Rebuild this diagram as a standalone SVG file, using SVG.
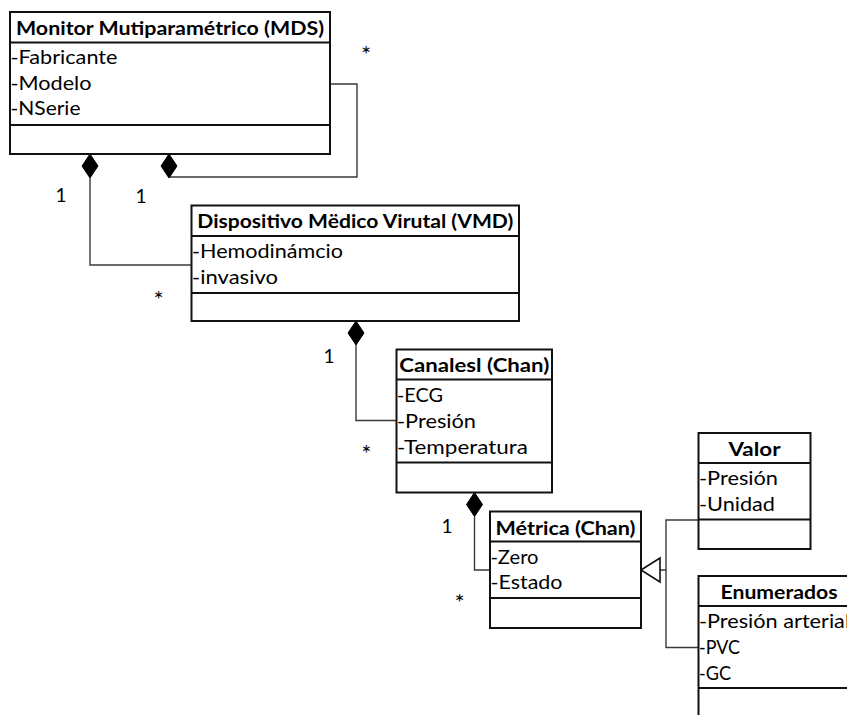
<svg xmlns="http://www.w3.org/2000/svg" width="847" height="715" viewBox="0 0 847 715">
  <style>
    .box { fill: #ffffff; stroke: #111111; stroke-width: 2; }
    .div { stroke: #111111; stroke-width: 2; }
    .title { font-family: Lato, "Liberation Sans", sans-serif; font-weight: bold; font-size: 19px; fill: #000000; text-anchor: middle; }
    .attr { font-family: Lato, "Liberation Sans", sans-serif; font-size: 19px; fill: #000000; }
    .mult { font-family: Lato, "Liberation Sans", sans-serif; font-size: 19px; fill: #000000; text-anchor: middle; }
    .star { font-family: Lato, "Liberation Sans", sans-serif; font-size: 24px; fill: #000000; text-anchor: middle; }
    .wire { fill: none; stroke: #3a3a3a; stroke-width: 1.4; }
    .diamond { fill: #000000; stroke: #000000; stroke-width: 1; }
    .hollow { fill: #ffffff; stroke: #111111; stroke-width: 1.6; }
  </style>

  <rect width="847" height="715" fill="#ffffff"/>

  <!-- connectors -->
  <g id="connectors">
    <!-- MDS composes VMD -->
    <path class="wire" d="M90,178 V265 H191.5"/>
    <polygon class="diamond" points="90,154 98,166 90,178 82,166"/>
    <!-- MDS self association -->
    <path class="wire" d="M330,84 H357 V177 H169"/>
    <polygon class="diamond" points="169,154 177,166 169,178 161,166"/>
    <!-- VMD composes Canales -->
    <path class="wire" d="M356,345 V420.5 H396.5"/>
    <polygon class="diamond" points="356,321 364,333 356,345 348,333"/>
    <!-- Canales composes Metrica -->
    <path class="wire" d="M474.5,516.5 V570 H490"/>
    <polygon class="diamond" points="474.5,492.5 482.5,504.5 474.5,516.5 466.5,504.5"/>
    <!-- Valor / Enumerados generalise Metrica -->
    <path class="wire" d="M698.5,520 H666 V647.5 H698.5 M666,570 H660"/>
    <polygon class="hollow" points="641,570 660,558 660,582"/>
  </g>

  <!-- multiplicities -->
  <g id="labels">
    <text class="star" x="366" y="63">*</text>
    <text class="mult" x="61" y="201.5">1</text>
    <text class="mult" x="141" y="203">1</text>
    <text class="star" x="158.5" y="307.5">*</text>
    <text class="mult" x="329" y="363.3">1</text>
    <text class="star" x="366.3" y="461.7">*</text>
    <text class="mult" x="447" y="532.7">1</text>
    <text class="star" x="459.7" y="611">*</text>
  </g>

  <g id="mds">
    <rect class="box" x="10" y="12" width="320" height="142"/>
    <line class="div" x1="10" y1="42.5" x2="330" y2="42.5"/>
    <line class="div" x1="10" y1="125" x2="330" y2="125"/>
    <text class="title" x="170" y="35" textLength="308" lengthAdjust="spacingAndGlyphs">Monitor Mutiparamétrico (MDS)</text>
    <text class="attr" x="10.5" y="63.5" textLength="107" lengthAdjust="spacingAndGlyphs">-Fabricante</text>
    <text class="attr" x="10.5" y="89.5" textLength="81" lengthAdjust="spacingAndGlyphs">-Modelo</text>
    <text class="attr" x="10.5" y="115" textLength="70" lengthAdjust="spacingAndGlyphs">-NSerie</text>
  </g>

  <g id="vmd">
    <rect class="box" x="191.5" y="205.5" width="327.5" height="115.5"/>
    <line class="div" x1="191.5" y1="236" x2="519" y2="236"/>
    <line class="div" x1="191.5" y1="293" x2="519" y2="293"/>
    <text class="title" x="355.3" y="228" textLength="316" lengthAdjust="spacingAndGlyphs">Dispositivo Mëdico Virutal (VMD)</text>
    <text class="attr" x="192" y="257.5" textLength="151" lengthAdjust="spacingAndGlyphs">-Hemodinámcio</text>
    <text class="attr" x="192" y="283.5" textLength="86" lengthAdjust="spacingAndGlyphs">-invasivo</text>
  </g>

  <g id="canales">
    <rect class="box" x="396.5" y="349.5" width="155.5" height="143"/>
    <line class="div" x1="396.5" y1="379.5" x2="552" y2="379.5"/>
    <line class="div" x1="396.5" y1="462.5" x2="552" y2="462.5"/>
    <text class="title" x="474.3" y="372" textLength="150" lengthAdjust="spacingAndGlyphs">Canalesl (Chan)</text>
    <text class="attr" x="397" y="402" textLength="46" lengthAdjust="spacingAndGlyphs">-ECG</text>
    <text class="attr" x="397" y="428" textLength="79" lengthAdjust="spacingAndGlyphs">-Presión</text>
    <text class="attr" x="397" y="453.5" textLength="131" lengthAdjust="spacingAndGlyphs">-Temperatura</text>
  </g>

  <g id="metrica">
    <rect class="box" x="490" y="511.5" width="151" height="116.5"/>
    <line class="div" x1="490" y1="541.5" x2="641" y2="541.5"/>
    <line class="div" x1="490" y1="598" x2="641" y2="598"/>
    <text class="title" x="565.5" y="534.5" textLength="140" lengthAdjust="spacingAndGlyphs">Métrica (Chan)</text>
    <text class="attr" x="490.5" y="563.5" textLength="48" lengthAdjust="spacingAndGlyphs">-Zero</text>
    <text class="attr" x="490.5" y="589" textLength="72" lengthAdjust="spacingAndGlyphs">-Estado</text>
  </g>

  <g id="valor">
    <rect class="box" x="698.5" y="433" width="112" height="116"/>
    <line class="div" x1="698.5" y1="463" x2="810.5" y2="463"/>
    <line class="div" x1="698.5" y1="519.5" x2="810.5" y2="519.5"/>
    <text class="title" x="754.5" y="456" textLength="52" lengthAdjust="spacingAndGlyphs">Valor</text>
    <text class="attr" x="699" y="485" textLength="79" lengthAdjust="spacingAndGlyphs">-Presión</text>
    <text class="attr" x="699" y="511" textLength="76" lengthAdjust="spacingAndGlyphs">-Unidad</text>
  </g>

  <g id="enumerados">
    <rect class="box" x="698.5" y="576" width="170" height="200"/>
    <line class="div" x1="698.5" y1="606" x2="868.5" y2="606"/>
    <line class="div" x1="698.5" y1="688" x2="868.5" y2="688"/>
    <text class="title" x="779" y="598.5" textLength="117" lengthAdjust="spacingAndGlyphs">Enumerados</text>
    <text class="attr" x="699" y="628" textLength="151" lengthAdjust="spacingAndGlyphs">-Presión arterial</text>
    <text class="attr" x="699" y="654" textLength="41" lengthAdjust="spacingAndGlyphs">-PVC</text>
    <text class="attr" x="699" y="680" textLength="32" lengthAdjust="spacingAndGlyphs">-GC</text>
  </g>
</svg>
